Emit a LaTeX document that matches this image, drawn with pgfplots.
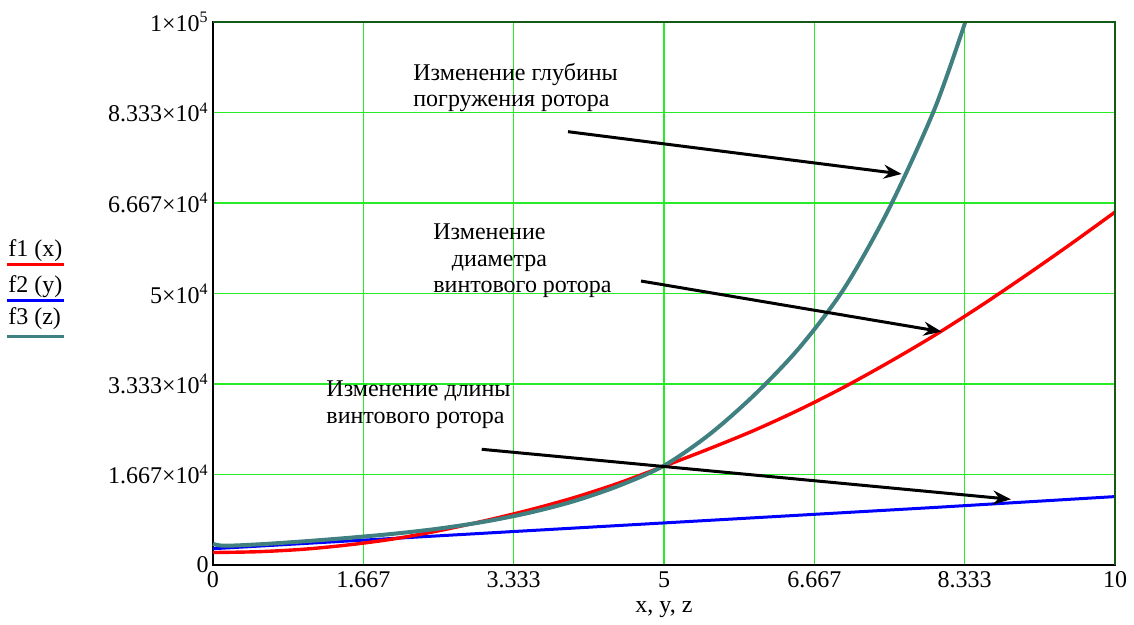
\documentclass[border=0pt]{standalone}
\usepackage{fontspec}
\setmainfont{Liberation Serif}
\usepackage{pgfplots}
\pgfplotsset{compat=1.18}
\usetikzlibrary{arrows.meta}
\definecolor{mcred}{RGB}{255,0,0}
\definecolor{mcblue}{RGB}{0,0,255}
\definecolor{mcteal}{RGB}{64,128,128}
\definecolor{gridgreen}{RGB}{40,235,40}
\definecolor{framegreen}{RGB}{20,90,20}
\begin{document}
\begin{tikzpicture}
\begin{axis}[
  scale only axis, width=451pt, height=271.5pt,
  xmin=0, xmax=10, ymin=0, ymax=100000,
  clip=false,
  xtick={0,1.66667,3.33333,5,6.66667,8.33333,10},
  xticklabels={0,1.667,3.333,5,6.667,8.333,10},
  ytick={0,16666.67,33333.33,50000,66666.67,83333.33,100000},
  yticklabels={0,1.667×10\textsuperscript{4},3.333×10\textsuperscript{4},5×10\textsuperscript{4},6.667×10\textsuperscript{4},8.333×10\textsuperscript{4},1×10\textsuperscript{5}},
  scaled y ticks=false, scaled x ticks=false,
  major tick length=0pt,
  grid=major,
  major grid style={gridgreen, line width=0.8pt},
  axis line style={black, line width=1pt},
  tick label style={font=\fontsize{12}{14}\selectfont},
  yticklabel style={inner sep=2pt},
  xticklabel style={inner sep=2pt, yshift=-1pt},
  xlabel={x, y, z},
  xlabel style={at={(axis description cs:0.5,-0.0830)}, anchor=center, inner sep=1pt, font=\fontsize{12}{14}\selectfont},
]
% f2 (y)
\addplot[mcblue, line width=1.5pt] coordinates {
(0,3000) (1,3950) (2,4900) (3,5850) (4,6800) (5,7750) (6,8700) (7,9650) (8,10600) (9,11600) (10,12600)};
% f1 (x)
\addplot[mcred, line width=1.7pt, smooth] coordinates {
(0,2300) (0.5,2450) (1,2900) (1.5,3700) (2,4800) (2.5,6300) (3,8100) (3.5,10100) (4,12400) (4.5,15100) (5,18200) (5.5,21400) (6,24800) (6.5,28600) (7,32800) (7.5,37400) (8,42300) (8.5,47600) (9,53200) (9.5,59000) (10,65000)};
% f3 (z)
\addplot[mcteal, line width=2pt, smooth] coordinates {
(0,3900) (0.12,3550) (0.5,3800) (1,4350) (1.5,5000) (2,5750) (2.5,6700) (3,7950) (3.5,9600) (4,11750) (4.5,14600) (5,18300) (5.5,24000) (6,31300) (6.5,40000) (7,51000) (7.5,65800) (8,84000) (8.34,100000)};

% frame top and right
\draw[framegreen, line width=1pt] (rel axis cs:0,1) -- (rel axis cs:1,1) -- (rel axis cs:1,0);

% legend
\node[anchor=base west, inner sep=0pt, font=\fontsize{12}{14}\selectfont] at (rel axis cs:-0.2273,0.5678) {f1 (x)};
\draw[mcred, line width=1.5pt] (rel axis cs:-0.2284,0.5525) -- (rel axis cs:-0.1652,0.5525);
\node[anchor=base west, inner sep=0pt, font=\fontsize{12}{14}\selectfont] at (rel axis cs:-0.2273,0.5015) {f2 (y)};
\draw[mcblue, line width=1.5pt] (rel axis cs:-0.2284,0.4867) -- (rel axis cs:-0.1652,0.4867);
\node[anchor=base west, inner sep=0pt, font=\fontsize{12}{14}\selectfont] at (rel axis cs:-0.2273,0.4433) {f3 (z)};
\draw[mcteal, line width=1.5pt] (rel axis cs:-0.2284,0.4217) -- (rel axis cs:-0.1652,0.4217);

% annotations (anchor = baseline of last line)
\node[anchor=base west, inner sep=0pt, align=left, font=\fontsize{12}{13.3}\selectfont] at (rel axis cs:0.2217,0.8440) {Изменение глубины\\погружения ротора};
\node[anchor=base west, inner sep=0pt, align=left, font=\fontsize{12}{13.3}\selectfont] at (rel axis cs:0.2439,0.5015) {Изменение\\\hspace{9.3pt}диаметра\\винтового ротора};
\node[anchor=base west, inner sep=0pt, align=left, font=\fontsize{12}{13.3}\selectfont] at (rel axis cs:0.1253,0.2610) {Изменение длины\\винтового ротора};

\draw[line width=1.5pt, -{Stealth[length=9pt,width=7pt,inset=3pt]}] (rel axis cs:0.3936,0.7980) -- (rel axis cs:0.7635,0.7201);
\draw[line width=1.5pt, -{Stealth[length=9pt,width=7pt,inset=3pt]}] (rel axis cs:0.4745,0.5230) -- (rel axis cs:0.8078,0.4297);
\draw[line width=1.5pt, -{Stealth[length=9pt,width=7pt,inset=3pt]}] (rel axis cs:0.2979,0.2131) -- (rel axis cs:0.8847,0.1210);

% bounding box
\path (rel axis cs:-0.23614,-0.10866) rectangle (rel axis cs:1.02106,1.04052);
\end{axis}
\end{tikzpicture}
\end{document}
